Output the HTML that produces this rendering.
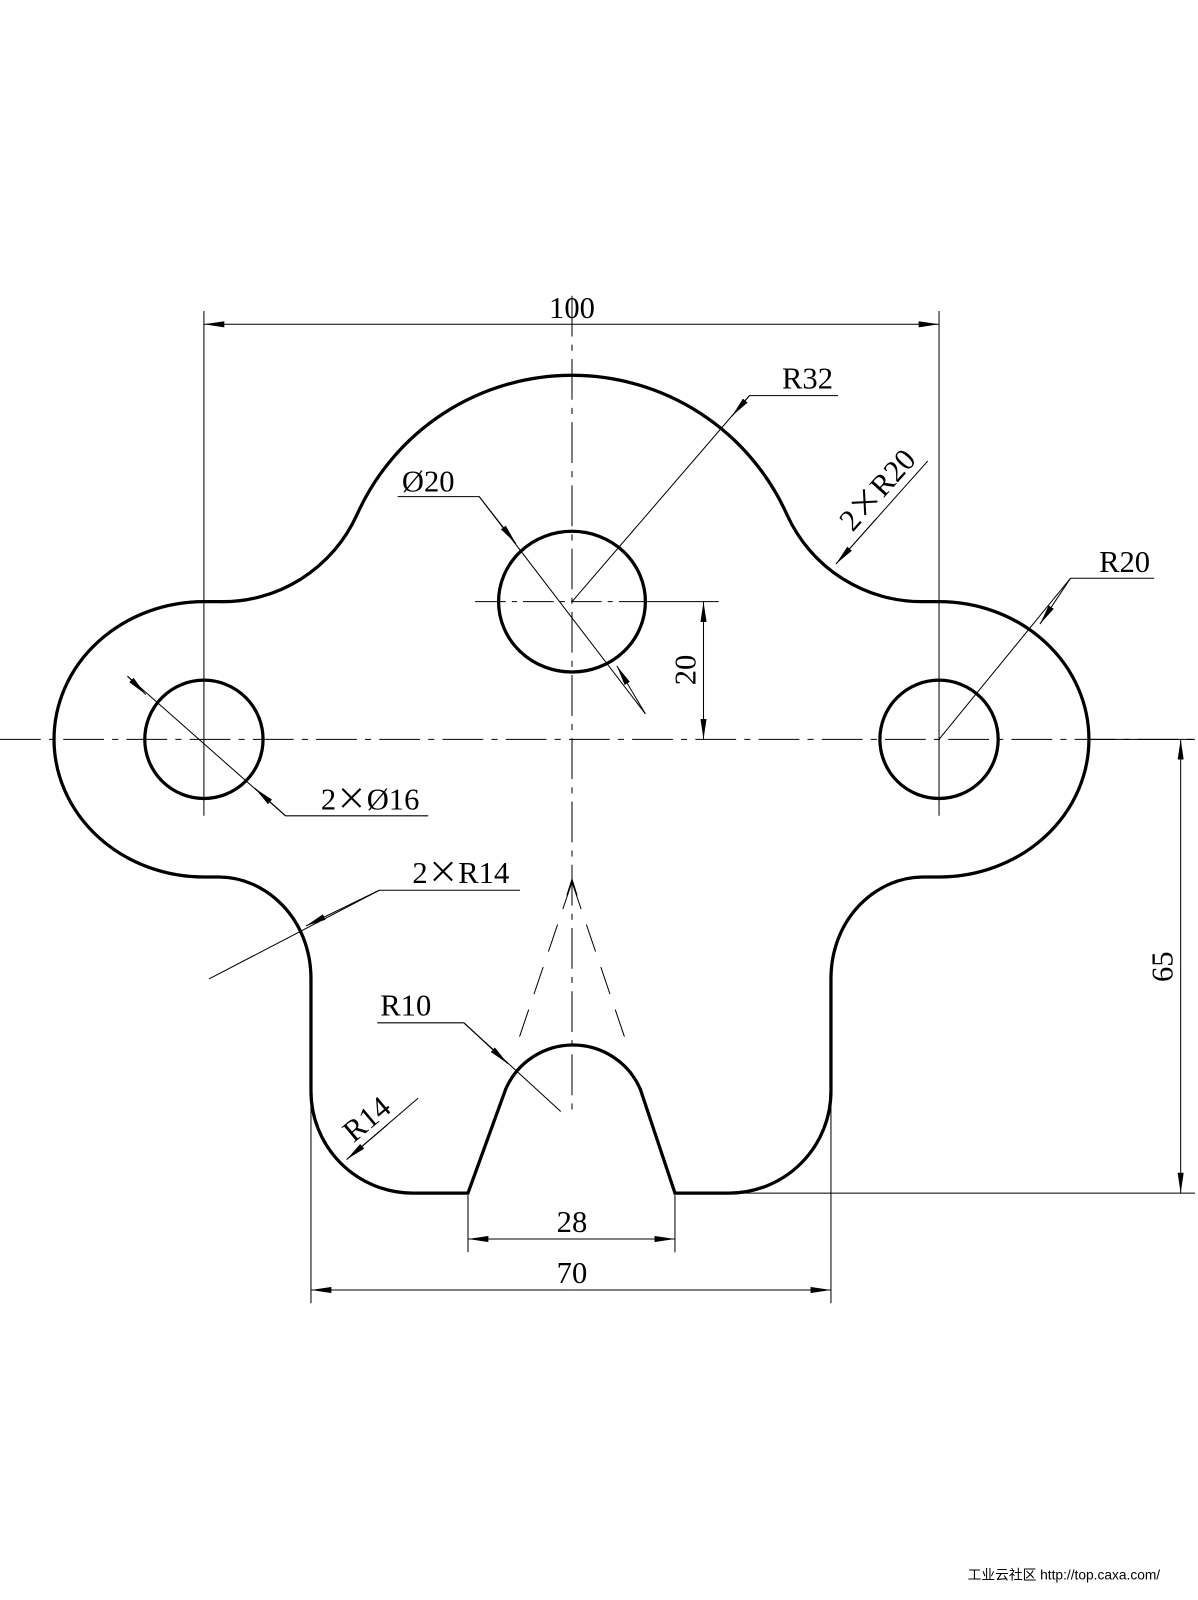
<!DOCTYPE html>
<html><head><meta charset="utf-8"><style>
html,body{margin:0;padding:0;background:#fff;}
svg{display:block;}
text{font-family:"Liberation Serif","Noto Serif CJK SC",serif;fill:#000;}
</style></head><body>
<svg width="1198" height="1600" viewBox="0 0 1175 1569" preserveAspectRatio="none" xmlns="http://www.w3.org/2000/svg">
<defs>
<marker id="a" viewBox="0 0 20 6" refX="20" refY="3" markerWidth="20" markerHeight="6" markerUnits="userSpaceOnUse" orient="auto">
<path d="M0,0 L20,3 L0,6 Z" fill="#000"/></marker>
</defs>
<rect width="1175" height="1569" fill="#fff"/>
<path d="M200,590 L215,590 A145 145 0 0 0 350,505 A231 231 0 0 1 772,505 A145 145 0 0 0 906,590 L921,590 A147 135 0 0 1 921,860 L905,860 C860,860 815,900 815,960 L815,1070 A100 100 0 0 1 715,1170 L662,1170 L628,1068 A72 72 0 0 0 496,1068 L459,1170 L405,1170 A100 100 0 0 1 305,1070 L305,960 C305,900 260,860 215,860 L200,860 A147 135 0 0 1 200,590 Z" fill="none" stroke="#000" stroke-width="3.2"/>
<g fill="none" stroke="#000" stroke-width="3.2">
<ellipse cx="561" cy="590" rx="72" ry="69"/>
<circle cx="200" cy="725" r="58"/>
<circle cx="921" cy="725" r="58"/>
</g>
<g stroke="#000" stroke-width="1" fill="none">
<path d="M0,725 H1172" stroke-dasharray="40,8,6,8"/>
<path d="M561,290 V1090" stroke-dasharray="40,8,6,8"/>
<path d="M466,590 H633" stroke-dasharray="30,6,5,6"/>
<path d="M633,590 H705"/>
<path d="M200,305 V800 M921,305 V800"/>
<path d="M1068,725 H1172 M715,1170 H1172"/>
<path d="M459,1172 V1228 M662,1172 V1228"/>
<path d="M305,1075 V1278 M815,1075 V1278"/>
<path d="M561,865 L505,1030 M561,865 L617,1030" stroke-dasharray="28,16"/>
<path d="M556,878 L561,862 L566,878"/>
</g>
<g stroke="#000" stroke-width="1" fill="none">
<path d="M560,318 H200" marker-end="url(#a)"/><path d="M560,318 H921" marker-end="url(#a)"/>
<path d="M690,658 V590" marker-end="url(#a)"/><path d="M690,658 V725" marker-end="url(#a)"/>
<path d="M1158,948 V725" marker-end="url(#a)"/><path d="M1158,948 V1170" marker-end="url(#a)"/>
<path d="M560,1215 H459" marker-end="url(#a)"/><path d="M560,1215 H662" marker-end="url(#a)"/>
<path d="M560,1265 H305" marker-end="url(#a)"/><path d="M560,1265 H815" marker-end="url(#a)"/>
<path d="M561,590 L735,388 H822"/><path d="M735,388 L718,408" marker-end="url(#a)"/>
<path d="M390,487 H470 L633,700"/><path d="M470,487 L506,533" marker-end="url(#a)"/><path d="M633,700 L605,653" marker-end="url(#a)"/>
<path d="M910,452 L820,553"/><path d="M860,508 L820,553" marker-end="url(#a)"/>
<path d="M921,725 L1050,567 H1132"/><path d="M1050,567 L1020,612" marker-end="url(#a)"/>
<path d="M125,663 L280,800 H420"/><path d="M125,663 L143,681" marker-end="url(#a)"/><path d="M280,800 L250,773" marker-end="url(#a)"/>
<path d="M205,960 L372,873 H510"/><path d="M372,873 L300,908" marker-end="url(#a)"/>
<path d="M370,1003 H455 L550,1090"/><path d="M455,1003 L498,1043" marker-end="url(#a)"/>
<path d="M410,1077 L340,1137"/><path d="M380,1103 L340,1137" marker-end="url(#a)"/>
</g>
<g font-size="30" text-anchor="middle">
<text x="561" y="312">100</text>
<text x="792" y="381">R32</text>
<text x="420" y="482">Ø20</text>
<text x="1103" y="561">R20</text>
<text x="363" y="794">2<tspan font-family="Noto Sans CJK SC">×</tspan>Ø16</text>
<text x="452" y="866">2<tspan font-family="Noto Sans CJK SC">×</tspan>R14</text>
<text x="398" y="996">R10</text>
<text x="561" y="1208">28</text>
<text x="561" y="1258">70</text>
<text transform="translate(682,657) rotate(-90)">20</text>
<text transform="translate(1150,948) rotate(-90)">65</text>
<text transform="translate(868,487) rotate(-48)">2<tspan font-family="Noto Sans CJK SC">×</tspan>R20</text>
<text transform="translate(366,1105) rotate(-40)">R14</text>
</g>
<text x="949" y="1549" font-size="13.5" style='font-family:"Liberation Sans","Noto Sans CJK SC",sans-serif'>工业云社区 http://top.caxa.com/</text>
</svg>
</body></html>
